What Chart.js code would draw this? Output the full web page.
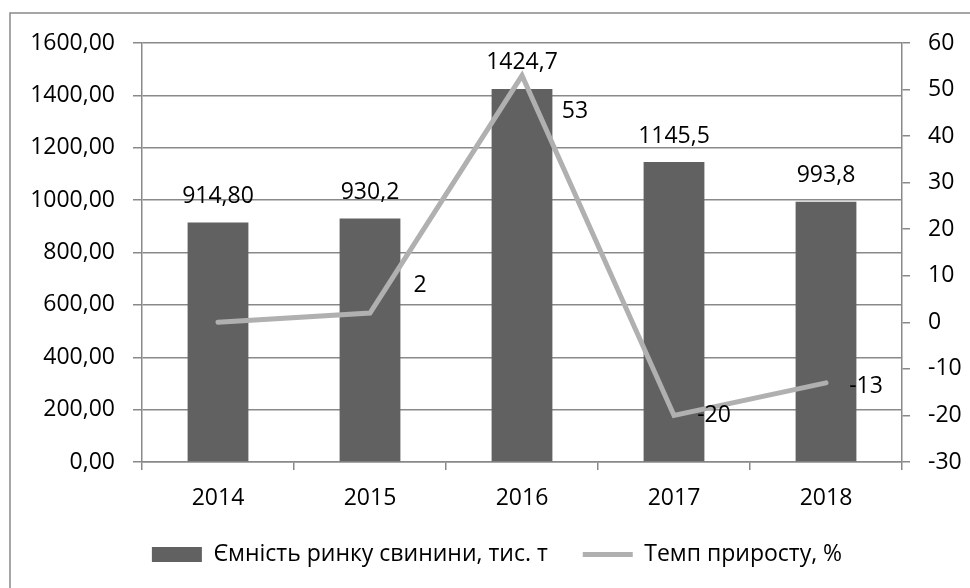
<!DOCTYPE html>
<html>
<head>
<meta charset="utf-8">
<script src="https://cdn.jsdelivr.net/npm/chart.js@4.4.1/dist/chart.umd.min.js"></script>
<style>
  html, body { margin: 0; padding: 0; background: #fff; }
  #wrap { width: 970px; height: 588px; }
</style>
</head>
<body>
<div id="wrap"><canvas id="chart" width="970" height="588"></canvas></div>
<script>
// --- data ---
const years = ['2014', '2015', '2016', '2017', '2018'];
const capacity = [914.8, 930.2, 1424.7, 1145.5, 993.8];
const capacityLabels = ['914,80', '930,2', '1424,7', '1145,5', '993,8'];
const growth = [0, 2, 53, -20, -13];
const growthLabels = [null, '2', '53', '-20', '-13'];
const leftTicks = [0, 200, 400, 600, 800, 1000, 1200, 1400, 1600];
const rightTicks = [-30, -20, -10, 0, 10, 20, 30, 40, 50, 60];

// label nudges (px) for the growth-rate labels, as placed in the original
const growthLabelShift = [null, [50, -28], [53, 36], [40, 0], [40, 4]];

const FONT = 'Open Sans';
const FSIZE = 23;
const GRID = '#898989';

// outer frame (only top and left edges are visible in the original)
const framePlugin = {
  id: 'frame',
  beforeDraw(chart) {
    const c = chart.ctx;
    c.save();
    c.strokeStyle = GRID;
    c.lineWidth = 1.5;
    c.beginPath();
    c.moveTo(10, 588);
    c.lineTo(10, 13);
    c.lineTo(970, 13);
    c.stroke();
    c.restore();
  }
};

// value labels over bars and beside line points
const labelPlugin = {
  id: 'valueLabels',
  afterDatasetsDraw(chart) {
    const c = chart.ctx;
    c.save();
    c.font = FSIZE + 'px "' + FONT + '"';
    c.fillStyle = '#000';
    c.textAlign = 'center';
    c.textBaseline = 'middle';
    chart.getDatasetMeta(0).data.forEach((bar, i) => {
      c.fillText(capacityLabels[i], bar.x, bar.y - 26);
    });
    chart.getDatasetMeta(1).data.forEach((pt, i) => {
      const txt = growthLabels[i];
      const sh = growthLabelShift[i];
      if (txt === null || !sh) return;
      c.fillText(txt, pt.x + sh[0], pt.y + sh[1]);
    });
    c.restore();
  }
};

const fmt2 = v => v.toFixed(2).replace('.', ',');

document.addEventListener('DOMContentLoaded', () => {
  const ctx = document.getElementById('chart').getContext('2d');
  new Chart(ctx, {
    type: 'bar',
    data: {
      labels: years,
      datasets: [
        {
          type: 'bar',
          label: 'Ємність ринку свинини, тис. т',
          data: capacity,
          backgroundColor: '#616161',
          borderWidth: 0,
          barPercentage: 0.4,
          categoryPercentage: 1,
          yAxisID: 'y',
          order: 1,
          pointStyle: 'rect'
        },
        {
          type: 'line',
          label: 'Темп приросту, %',
          data: growth,
          borderColor: '#b0b0b0',
          backgroundColor: '#b0b0b0',
          borderWidth: 5,
          borderCapStyle: 'round',
          pointRadius: 0,
          tension: 0,
          yAxisID: 'y1',
          order: 0,
          pointStyle: 'line'
        }
      ]
    },
    options: {
      responsive: false,
      animation: false,
      devicePixelRatio: 1,
      layout: { padding: { left: 24, right: 0, top: 43, bottom: 12 } },
      font: { family: FONT, size: FSIZE },
      color: '#000',
      scales: {
        x: {
          grid: { display: true, drawOnChartArea: false, tickLength: 8, color: GRID, lineWidth: 1.5, offset: true },
          border: { display: true, color: GRID, width: 1.5 },
          ticks: { color: '#000', font: { family: FONT, size: FSIZE }, padding: 15, maxRotation: 0 },
          afterFit: s => { s.height = 46; }
        },
        y: {
          position: 'left',
          min: 0,
          max: 1600,
          afterBuildTicks: s => { s.ticks = leftTicks.map(v => ({ value: v })); },
          grid: { color: GRID, lineWidth: 1.5, tickLength: 9 },
          border: { display: true, color: GRID, width: 1.5 },
          ticks: { color: '#000', font: { family: FONT, size: FSIZE }, padding: 18, callback: v => fmt2(v) },
          afterFit: s => { s.width = 118; }
        },
        y1: {
          position: 'right',
          min: -30,
          max: 60,
          afterBuildTicks: s => { s.ticks = rightTicks.map(v => ({ value: v })); },
          grid: { drawOnChartArea: false, color: GRID, lineWidth: 1.5, tickLength: 8 },
          border: { display: true, color: GRID, width: 1.5 },
          ticks: { color: '#000', font: { family: FONT, size: FSIZE }, padding: 18 },
          afterFit: s => { s.width = 68; }
        }
      },
      plugins: {
        legend: {
          position: 'bottom',
          labels: {
            usePointStyle: true,
            pointStyleWidth: 50,
            boxHeight: 15,
            padding: 35,
            color: '#000',
            font: { family: FONT, size: FSIZE },
            sort: (a, b) => a.datasetIndex - b.datasetIndex
          }
        },
        tooltip: { enabled: false },
        title: { display: false }
      }
    },
    plugins: [framePlugin, labelPlugin]
  });
});
</script>
</body>
</html>
